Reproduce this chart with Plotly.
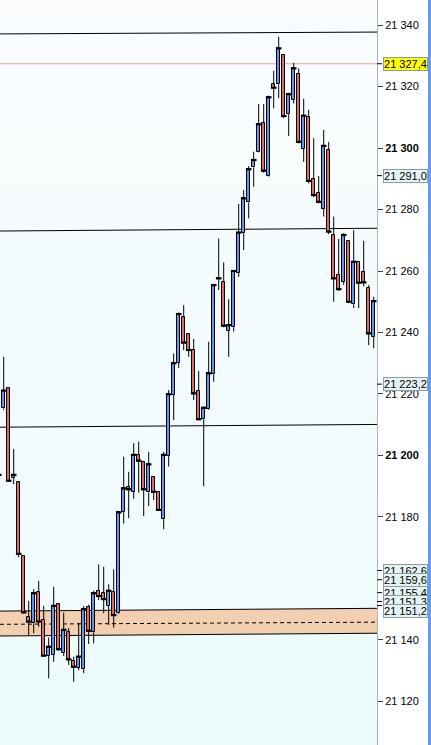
import plotly.graph_objects as go

# ---------------- data ----------------
idx = list(range(-1, 75))
opens = [21221.3, 21215.3, 21221.9, 21192.7, 21191.3, 21167.4, 21147.4, 21145.4, 21155.5, 21146.5,
         21134.9, 21135.1, 21151.6, 21135.7, 21142.5, 21133.2, 21131.0, 21130.5, 21150.8, 21142.5,
         21156.0, 21155.2, 21151.1, 21155.5, 21148.7, 21181.7, 21189.9, 21188.2, 21200.2, 21197.8,
         21188.0, 21192.9, 21188.0, 21179.3, 21199.9, 21219.7, 21230.2, 21244.9, 21239.4, 21234.3,
         21221.0, 21211.8, 21215.0, 21226.4, 21257.8, 21256.3, 21240.6, 21241.7, 21259.3, 21272.3,
         21282.3, 21293.7, 21298.6, 21308.0, 21290.9, 21320.7, 21320.7, 21330.2, 21311.0, 21315.6,
         21324.1, 21299.7, 21310.0, 21289.8, 21285.3, 21280.2, 21299.3, 21271.7, 21258.7, 21256.5,
         21269.8, 21249.2, 21263.0, 21259.8, 21254.4, 21238.6]
highs = [21221.3, 21232.1, 21221.9, 21202.1, 21191.5, 21167.4, 21152.7, 21156.5, 21159.2, 21151.1,
         21140.8, 21157.3, 21152.0, 21148.9, 21143.9, 21134.6, 21145.6, 21151.0, 21151.5, 21156.0,
         21164.6, 21163.8, 21158.1, 21163.0, 21182.0, 21199.6, 21194.7, 21204.0, 21204.5, 21198.0,
         21201.2, 21193.0, 21188.0, 21201.2, 21221.3, 21233.2, 21246.5, 21248.9, 21239.5, 21237.9,
         21227.5, 21216.0, 21237.0, 21255.8, 21270.6, 21262.8, 21250.8, 21260.3, 21281.8, 21286.3,
         21294.1, 21298.8, 21314.3, 21314.3, 21317.0, 21325.1, 21336.2, 21330.5, 21318.0, 21327.7,
         21325.9, 21316.0, 21312.4, 21303.2, 21290.9, 21305.9, 21302.0, 21277.7, 21270.4, 21272.3,
         21270.0, 21273.3, 21263.0, 21269.8, 21255.4, 21251.6]
lows = [21193.7, 21214.8, 21191.5, 21190.7, 21166.9, 21148.5, 21141.3, 21142.2, 21144.3, 21134.5,
        21127.5, 21132.9, 21136.5, 21134.8, 21131.9, 21126.4, 21130.2, 21129.2, 21138.7, 21138.9,
        21153.0, 21148.7, 21144.9, 21144.0, 21148.5, 21177.9, 21179.6, 21185.9, 21187.9, 21180.3,
        21183.6, 21185.5, 21182.0, 21176.0, 21196.4, 21211.5, 21228.4, 21234.3, 21232.1, 21218.0,
        21211.5, 21190.0, 21214.8, 21224.0, 21253.8, 21241.7, 21232.1, 21240.3, 21258.1, 21266.8,
        21277.1, 21287.4, 21298.5, 21292.0, 21290.7, 21312.9, 21316.2, 21309.7, 21303.9, 21314.5,
        21301.5, 21295.5, 21288.5, 21284.0, 21282.0, 21277.7, 21272.0, 21250.0, 21253.5, 21255.5,
        21249.5, 21247.9, 21247.9, 21255.0, 21235.9, 21234.9]
closes = [21193.7, 21221.1, 21191.8, 21193.7, 21168.0, 21149.0, 21146.0, 21155.2, 21146.0, 21134.9,
          21137.8, 21151.1, 21137.0, 21143.3, 21133.7, 21131.3, 21134.6, 21150.0, 21143.0, 21155.2,
          21154.3, 21153.3, 21156.0, 21148.1, 21181.5, 21189.3, 21189.0, 21200.2, 21198.3, 21189.0,
          21197.1, 21188.2, 21182.3, 21200.2, 21219.9, 21230.0, 21246.0, 21236.7, 21234.3, 21220.2,
          21211.8, 21215.5, 21226.7, 21255.4, 21257.6, 21242.2, 21242.4, 21260.0, 21272.5, 21283.6,
          21293.1, 21296.1, 21307.7, 21292.6, 21316.5, 21319.6, 21332.4, 21310.4, 21317.5, 21325.9,
          21302.0, 21310.5, 21289.3, 21284.7, 21282.5, 21300.7, 21272.8, 21257.6, 21254.1, 21271.7,
          21250.0, 21263.0, 21256.2, 21256.3, 21239.7, 21250.2]

tick_vals = [21120, 21140, 21180, 21200, 21220, 21240, 21260, 21280, 21300, 21320, 21340]
tick_text = ["21 120", "21 140", "21 180", "<b>21 200</b>", "21 220", "21 240",
             "21 260", "21 280", "<b>21 300</b>", "21 320", "21 340"]

# trend / level lines (left value, right value)
trend_lines = [(21337.1, 21337.7), (21273.0, 21273.9), (21209.2, 21210.1)]
highlight_level = 21327.4
zone_top = (21149.4, 21150.3)
zone_bottom = (21141.3, 21142.2)
zone_mid = (21145.1, 21145.8)

# price boxes on the axis: (value, text, background, pixel shift)
price_boxes = [
    (21162.6, "21 162,6", "#e6f3f4", 0),
    (21159.6, "21 159,6", "#e6f3f4", 0),
    (21155.4, "21 155,4", "#e6f3f4", 0),
    (21152.5, "21 151,3", "#e6f3f4", 0),
    (21151.2, "21 151,2", "#e6f3f4", -5),
    (21223.2, "21 223,2", "#e6f3f4", 0),
    (21291.0, "21 291,0", "#e6f3f4", 0),
    (21327.4, "21 327,4", "#ffff00", 0),
]

UP = "#6495ed"
DOWN = "#e06a6a"

# ---------------- figure ----------------
fig = go.Figure()

base = [min(o, c) for o, c in zip(opens, closes)]
hgt = [max(abs(c - o), 0.25) for o, c in zip(opens, closes)]
cols = [UP if c > o else DOWN for o, c in zip(opens, closes)]

# wicks: upper and lower segments (so they don't cross the body)
wx, wy = [], []
for i, o, h, l, c in zip(idx, opens, highs, lows, closes):
    top, bot = max(o, c), min(o, c)
    wx += [i, i, None, i, i, None]
    wy += [h, top, None, bot, l, None]

fig.add_trace(go.Bar(x=idx, y=hgt, base=base, width=0.7,
                     marker=dict(color=cols, line=dict(color="black", width=1)),
                     hoverinfo="skip", showlegend=False))
fig.add_trace(go.Scatter(x=wx, y=wy, mode="lines", line=dict(color="black", width=1),
                         hoverinfo="skip", showlegend=False, connectgaps=False))
fig.add_trace(go.Scatter(x=idx, y=closes, mode="markers",
                         marker=dict(symbol="line-ew", size=4, line=dict(color="black", width=2.2)),
                         hoverinfo="skip", showlegend=False))

shapes = []
# background gradient
nb = 40
top_c = (250, 252, 254)
bot_c = (236, 251, 251)
for k in range(nb):
    t = (k + 0.5) / nb
    r = round(top_c[0] + (bot_c[0] - top_c[0]) * t)
    g = round(top_c[1] + (bot_c[1] - top_c[1]) * t)
    b = round(top_c[2] + (bot_c[2] - top_c[2]) * t)
    shapes.append(dict(type="rect", xref="paper", yref="paper", x0=0, x1=1,
                       y0=1 - (k + 1) / nb, y1=1 - k / nb + 0.001, layer="below",
                       line=dict(width=0), fillcolor=f"rgb({r},{g},{b})"))

# zone
shapes.append(dict(type="path", xref="paper", yref="y", layer="below",
                   path=f"M 0 {zone_top[0]} L 1 {zone_top[1]} L 1 {zone_bottom[1]} L 0 {zone_bottom[0]} Z",
                   fillcolor="#f2cfb0", line=dict(width=0)))
for a, b in (zone_top, zone_bottom):
    shapes.append(dict(type="line", xref="paper", yref="y", x0=0, x1=1, y0=a, y1=b,
                       line=dict(color="black", width=1), layer="below"))
shapes.append(dict(type="line", xref="paper", yref="y", x0=0, x1=1, y0=zone_mid[0], y1=zone_mid[1],
                   line=dict(color="black", width=1, dash="4px,3px"), layer="below"))

# highlight level
shapes.append(dict(type="line", xref="paper", yref="y", x0=0, x1=1, y0=highlight_level, y1=highlight_level,
                   line=dict(color="#f0a0a0", width=1), layer="below"))
# trend lines
for a, b in trend_lines:
    shapes.append(dict(type="line", xref="paper", yref="y", x0=0, x1=1, y0=a, y1=b,
                       line=dict(color="black", width=1), layer="below"))

# blue stripe at right edge
shapes.append(dict(type="rect", xref="paper", yref="paper", x0=428 / 377, x1=432 / 377, y0=0, y1=1,
                   fillcolor="#6a9be8", line=dict(width=0)))

annotations = []
for v, txt, bg, sh in price_boxes:
    shapes.append(dict(type="line", xref="paper", yref="y", x0=1, x1=382 / 377, y0=v, y1=v,
                       line=dict(color="black", width=1)))
    annotations.append(dict(xref="paper", yref="y", x=382.5 / 377, y=v, xanchor="left", yanchor="middle",
                            yshift=sh, text=txt, showarrow=False, bgcolor=bg, bordercolor="#8c9ca4",
                            borderwidth=1, borderpad=0, width=43, height=12,
                            font=dict(family="Liberation Sans, Arial", size=11, color="black")))

fig.update_layout(
    width=431, height=745,
    margin=dict(l=0, r=54, t=0, b=0),
    paper_bgcolor="white", plot_bgcolor="#f2fbfc",
    shapes=shapes, annotations=annotations,
    bargap=0, showlegend=False,
    xaxis=dict(range=[-0.74, 74.66], visible=False, fixedrange=True),
    yaxis=dict(range=[21105.85, 21348.13], side="right", showgrid=False, zeroline=False,
               showline=True, linecolor="#a8b4bc", linewidth=1, mirror=False,
               ticks="outside", ticklen=5, tickcolor="#404040",
               tickvals=tick_vals, ticktext=tick_text,
               tickfont=dict(family="Liberation Sans, Arial", size=11, color="black")),
)

fig.write_html("out.html", config={"displayModeBar": False},
               post_script="document.body.style.margin='0px';")
